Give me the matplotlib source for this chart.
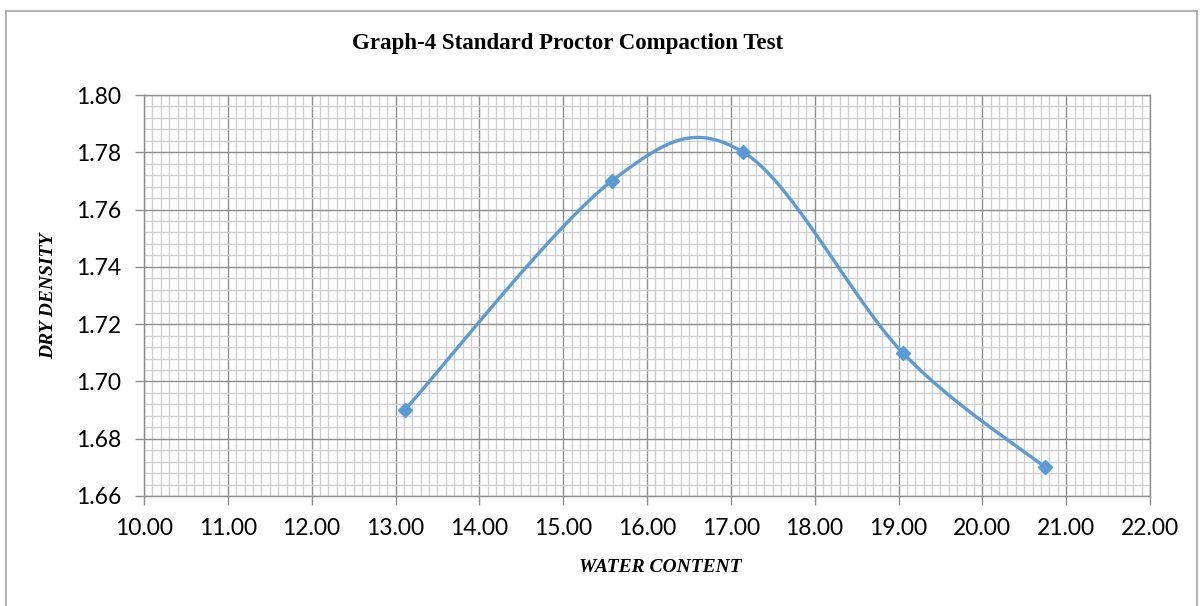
import matplotlib.pyplot as plt
import numpy as np
from matplotlib.ticker import MultipleLocator, FormatStrFormatter
from matplotlib.lines import Line2D

# data
water_content = [13.11, 15.58, 17.15, 19.05, 20.75]
dry_density = [1.69, 1.77, 1.78, 1.71, 1.67]

title = 'Graph-4 Standard Proctor Compaction Test'
x_label = 'WATER CONTENT'
y_label = 'DRY DENSITY'


def smooth(xs, ys, n=60):
    # Excel style smoothed line: bezier segments, control points from neighbours
    p = np.column_stack([xs, ys]).astype(float)
    pts = np.vstack([p[0], p, p[-1]])
    out = []
    t = np.linspace(0, 1, n)[:, None]
    for i in range(1, len(pts) - 2):
        p0, p1, p2, p3 = pts[i - 1], pts[i], pts[i + 1], pts[i + 2]
        c1 = p1 + (p2 - p0) / 6
        c2 = p2 - (p3 - p1) / 6
        seg = ((1 - t) ** 3) * p1 + 3 * ((1 - t) ** 2) * t * c1 + 3 * (1 - t) * t ** 2 * c2 + t ** 3 * p2
        out.append(seg if i == 1 else seg[1:])
    out = np.vstack(out)
    return out[:, 0], out[:, 1]


fig = plt.figure(figsize=(12.03, 6.06), dpi=100)
ax = fig.add_axes([144 / 1203, 110 / 606, 1006 / 1203, 401 / 606])

sx, sy = smooth(water_content, dry_density)
ax.plot(sx, sy, color='#5B9BD5', lw=2.4, solid_capstyle='round', zorder=3)
ax.plot(water_content, dry_density, 'D', color='#5B9BD5', markersize=7, zorder=4)

ax.set_xlim(10, 22)
ax.set_ylim(1.66, 1.80)
ax.xaxis.set_major_locator(MultipleLocator(1))
ax.xaxis.set_minor_locator(MultipleLocator(0.1))
ax.yaxis.set_major_locator(MultipleLocator(0.02))
ax.yaxis.set_minor_locator(MultipleLocator(0.004))
ax.xaxis.set_major_formatter(FormatStrFormatter('%.2f'))
ax.yaxis.set_major_formatter(FormatStrFormatter('%.2f'))

ax.grid(which='minor', color='#cfcfcf', lw=1.0, zorder=0)
ax.grid(which='major', color='#8e8e8e', lw=1.0, zorder=1)
ax.set_axisbelow(True)

for s in ax.spines.values():
    s.set_color('#8e8e8e')
    s.set_linewidth(1.0)

ax.tick_params(which='major', length=6.5, width=1.0, color='#8e8e8e',
               labelsize=16.5, labelcolor='black')
ax.tick_params(axis='y', which='major', pad=10)
ax.tick_params(axis='x', which='major', pad=9)
ax.tick_params(which='minor', length=0)
for lab in ax.get_xticklabels() + ax.get_yticklabels():
    lab.set_fontfamily(['Lato', 'DejaVu Sans'])

fig.text(568 / 1203, 1 - 43 / 606, title, ha='center', va='center',
         fontsize=16.5, fontweight='bold', family='Liberation Serif')
fig.text(660 / 1203, 1 - 568 / 606, x_label, ha='center', va='center',
         fontsize=14, fontweight='bold', fontstyle='italic', family='Liberation Serif')
fig.text(49 / 1203, 1 - 296 / 606, y_label, ha='center', va='center', rotation=90,
         fontsize=14, fontweight='bold', fontstyle='italic', family='Liberation Serif')

# chart border
bx0, by0, bx1, by1 = 6 / 1203, 1 - 11 / 606, 1197 / 1203, -0.01
for xs_, ys_ in [([bx0, bx1], [by0, by0]), ([bx0, bx0], [by0, by1]), ([bx1, bx1], [by0, by1])]:
    fig.add_artist(Line2D(xs_, ys_, transform=fig.transFigure, color='#a6a6a6', lw=1.2))

fig.savefig('out.png', dpi=100)
